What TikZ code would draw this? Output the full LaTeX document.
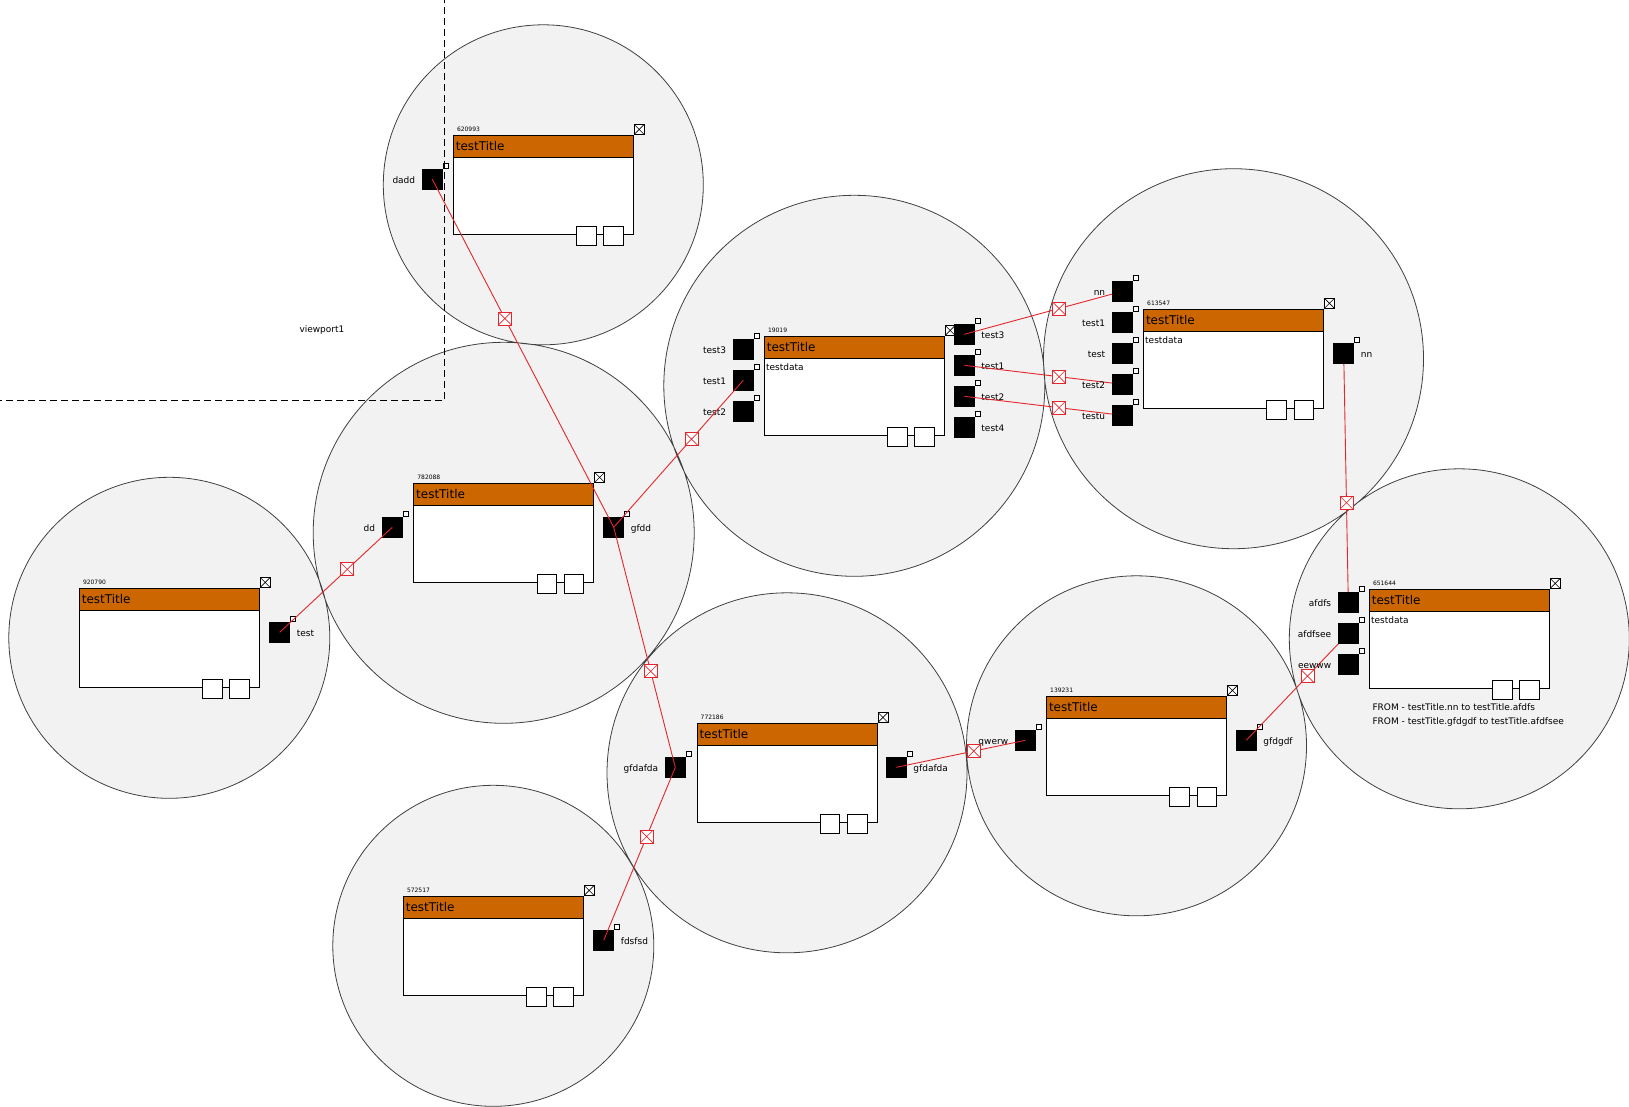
\documentclass[tikz,border=0pt]{standalone}
\usepackage{fontspec}
\setmainfont{DejaVu Sans}
\usetikzlibrary{positioning}
\definecolor{titleorange}{HTML}{CC6600}
\definecolor{zonegray}{HTML}{F2F2F2}
\definecolor{linkred}{HTML}{E3262B}
\pgfdeclarelayer{zones}
\pgfdeclarelayer{front}
\pgfsetlayers{zones,main,front}

\tikzset{
  crossed/.style={path picture={\draw[#1, line width=0.6pt]
      (path picture bounding box.north west) -- (path picture bounding box.south east)
      (path picture bounding box.north east) -- (path picture bounding box.south west);}},
  modbox/.style={draw, fill=white, line width=1pt, minimum width=180pt, minimum height=99pt, inner sep=0pt},
  titlebar/.style={draw, fill=titleorange, line width=1pt, text width=175pt, align=left,
      inner xsep=2.5pt, inner ysep=0pt, minimum height=22pt, font=\fontsize{12pt}{13pt}\selectfont},
  idtext/.style={inner sep=0pt, font=\fontsize{6pt}{7pt}\selectfont},
  datatext/.style={inner sep=0pt, font=\fontsize{9pt}{11pt}\selectfont},
  closebox/.style={draw, fill=white, line width=0.8pt, minimum size=10pt, inner sep=0pt, crossed=black},
  minibox/.style={draw, fill=white, line width=1pt, minimum size=19.5pt, inner sep=0pt},
  portbox/.style={fill=black, minimum size=20.5pt, inner sep=0pt},
  pinmark/.style={draw, fill=white, line width=0.7pt, minimum size=5pt, inner sep=0pt,
      path picture={\fill (path picture bounding box.center) circle (1pt);}},
  portlabel/.style={inner sep=0pt, text height=10.1pt, text depth=1.7pt, font=\fontsize{9pt}{11pt}\selectfont},
  linkmark/.style={draw=linkred, fill=white, line width=0.8pt, minimum size=13pt, inner sep=0pt, crossed=linkred},
  link/.style={linkred, line width=0.9pt},
  zoneline/.style={draw=black!75, line width=0.8pt},
  viewport/.style={line width=0.8pt, dash pattern=on 7pt off 4pt}
}

% module: name, x, y, id, data
\newcommand{\module}[5]{%
  \node[modbox] (#1) at (#2,#3) {};
  \node[titlebar, anchor=north] (#1-title) at (#1.north) {testTitle};
  \node[idtext, anchor=base west] (#1-id) at ([xshift=4pt, yshift=3.5pt]#1.north west) {#4};
  \ifx\relax#5\relax\else
    \node[datatext, anchor=base west] (#1-data) at ([xshift=2pt, yshift=-12pt]#1-title.south west) {#5};
  \fi
  \node[closebox, anchor=south west] (#1-close) at (#1.north east) {};
  \node[minibox, anchor=north east] (#1-b2) at ([xshift=-10pt, yshift=9pt]#1.south east) {};
  \node[minibox, anchor=north east] (#1-b1) at ([xshift=-6.7pt]#1-b2.north west) {};
}
% port: name, x, y, label, side
\newcommand{\port}[5]{%
  \node[portbox] (#1) at (#2,#3) {};
  \node[pinmark, anchor=south west] (#1-pin) at (#1.north east) {};
  \node[portlabel, #5=6.5pt of #1] (#1-label) {#4};
}

\begin{document}
\begin{tikzpicture}[x=1pt, y=-1pt]
  \useasboundingbox (0,0) rectangle (1629,1106);
  % modules
  \module{m620993}{543.3}{184.8}{620993}{}
  \module{m920790}{169.3}{637.8}{920790}{}
  \module{m782088}{503.7}{532.8}{782088}{}
  \module{m19019}{854.3}{385.8}{19019}{testdata}
  \module{m613547}{1233.5}{358.7}{613547}{testdata}
  \module{m651644}{1459.3}{638.8}{651644}{testdata}
  \module{m772186}{787}{772.8}{772186}{}
  \module{m139231}{1136.5}{745.8}{139231}{}
  \module{m572517}{493.3}{945.8}{572517}{}
  % ports
  \port{m620993-dadd}{432.3}{179.3}{dadd}{left}
  \port{m920790-test}{279.7}{632.3}{test}{right}
  \port{m782088-dd}{392.3}{527.3}{dd}{left}
  \port{m782088-gfdd}{613.7}{527.3}{gfdd}{right}
  \port{m19019-in-test3}{743.3}{349.3}{test3}{left}
  \port{m19019-in-test1}{743.3}{380.3}{test1}{left}
  \port{m19019-in-test2}{743.3}{411.3}{test2}{left}
  \port{m19019-out-test3}{964.3}{334.3}{test3}{right}
  \port{m19019-out-test1}{964.3}{365.3}{test1}{right}
  \port{m19019-out-test2}{964.3}{396.3}{test2}{right}
  \port{m19019-out-test4}{964.3}{427.3}{test4}{right}
  \port{m772186-in-gfdafda}{675.3}{767.3}{gfdafda}{left}
  \port{m772186-out-gfdafda}{896.3}{767.3}{gfdafda}{right}
  \port{m139231-qwerw}{1025.3}{740.3}{qwerw}{left}
  \port{m139231-gfdgdf}{1246.3}{740.3}{gfdgdf}{right}
  \port{m572517-fdsfsd}{603.7}{940.3}{fdsfsd}{right}
  \begin{pgfonlayer}{front}
    \port{m613547-in-nn}{1122.3}{291.3}{nn}{left}
    \port{m613547-in-test1}{1122.3}{322.3}{test1}{left}
    \port{m613547-in-test}{1122.3}{353.3}{test}{left}
    \port{m613547-in-test2}{1122.3}{384.3}{test2}{left}
    \port{m613547-in-testu}{1122.3}{415.3}{testu}{left}
    \port{m613547-out-nn}{1343.7}{353.3}{nn}{right}
    \port{m651644-afdfs}{1348.3}{602.3}{afdfs}{left}
    \port{m651644-afdfsee}{1348.3}{633.3}{afdfsee}{left}
    \port{m651644-eewww}{1348.3}{664.3}{eewww}{left}
  \end{pgfonlayer}
  % notes under 651644
  \node[datatext, anchor=base west] (m651644-note1) at (1372.3,710.7) {FROM - testTitle.nn to testTitle.afdfs};
  \node[datatext, anchor=base west] (m651644-note2) at (1372.3,724.7) {FROM - testTitle.gfdgdf to testTitle.afdfsee};
  % zones
  \begin{pgfonlayer}{zones}
    \fill[zonegray] (m620993.center) circle (160pt) (m920790.center) circle (160.5pt)
      (m782088.center) circle (190.5pt) (m19019.center) circle (190.5pt)
      (m613547.center) circle (190pt) (m651644.center) circle (170pt)
      (m772186.center) circle (180pt) (m139231.center) circle (170pt)
      (m572517.center) circle (160.5pt);
    \draw[zoneline] (m620993.center) circle (160pt) (m920790.center) circle (160.5pt)
      (m782088.center) circle (190.5pt) (m19019.center) circle (190.5pt)
      (m613547.center) circle (190pt) (m651644.center) circle (170pt)
      (m772186.center) circle (180pt) (m139231.center) circle (170pt)
      (m572517.center) circle (160.5pt);
  \end{pgfonlayer}
  % viewport
  \draw[viewport] (-5,400.5) -| (444.5,-5);
  \node[datatext, anchor=base west] (viewport1) at (299.3,332.3) {viewport1};
  % links
  \draw[link] (m620993-dadd.center) -- node[linkmark, pos=0.4] (mark1) {} (m782088-gfdd.center);
  \draw[link] (m772186-in-gfdafda.center) -- node[linkmark, pos=0.4] (mark2) {} (m782088-gfdd.center);
  \draw[link] (m772186-in-gfdafda.center) -- node[linkmark, pos=0.4] (mark3) {} (m572517-fdsfsd.center);
  \draw[link] (m19019-in-test1.center) -- node[linkmark, pos=0.4] (mark4) {} (m782088-gfdd.center);
  \draw[link] (m782088-dd.center) -- node[linkmark, pos=0.4] (mark5) {} (m920790-test.center);
  \draw[link] (m613547-in-nn.center) -- node[linkmark, pos=0.4] (mark6) {} (m19019-out-test3.center);
  \draw[link] (m613547-in-test2.center) -- node[linkmark, pos=0.4] (mark7) {} (m19019-out-test1.center);
  \draw[link] (m613547-in-testu.center) -- node[linkmark, pos=0.4] (mark8) {} (m19019-out-test2.center);
  \draw[link] (m651644-afdfs.center) -- node[linkmark, pos=0.4] (mark9) {} (m613547-out-nn.center);
  \draw[link] (m139231-qwerw.center) -- node[linkmark, pos=0.4] (mark10) {} (m772186-out-gfdafda.center);
  \draw[link] (m651644-afdfsee.center) -- node[linkmark, pos=0.4] (mark11) {} (m139231-gfdgdf.center);
\end{tikzpicture}
\end{document}
